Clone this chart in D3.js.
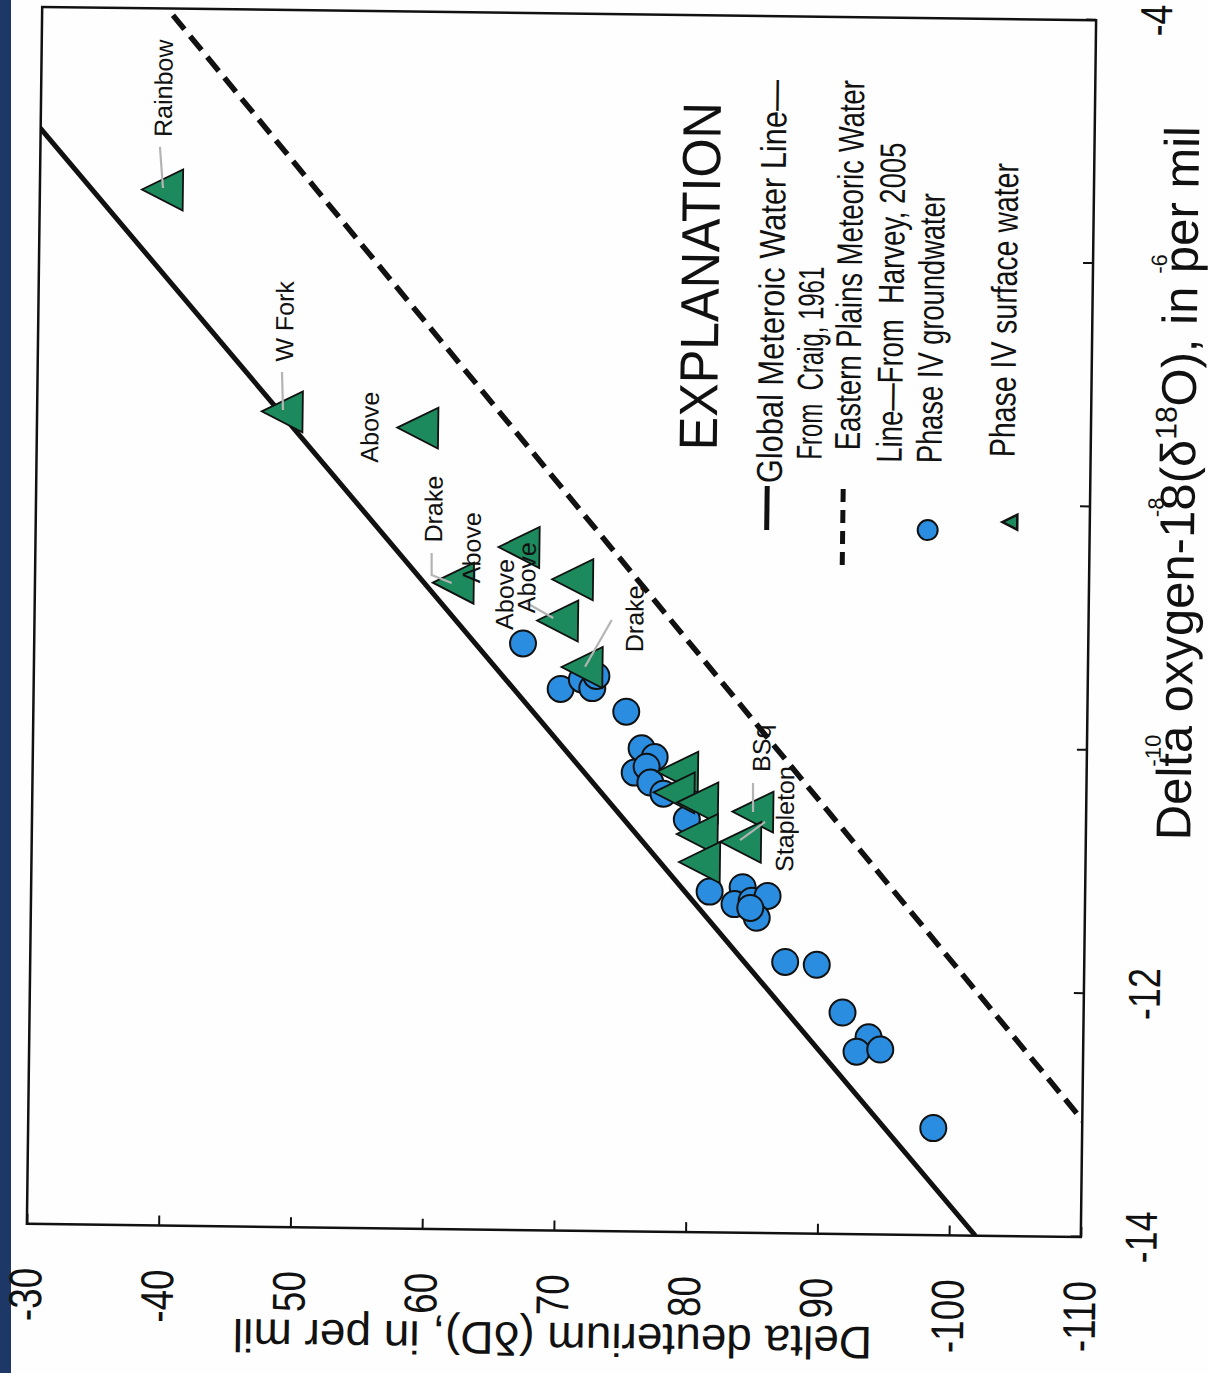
<!DOCTYPE html>
<html><head><meta charset="utf-8">
<script src="https://cdn.jsdelivr.net/npm/d3@7"></script>
<style>body{margin:0;background:#fff}svg{display:block}text{font-family:"Liberation Sans",Arial,sans-serif}</style>
</head><body>
<svg id="chart" width="1209" height="1373"></svg>
<script>
// ---------------- DATA ----------------
const xTicks = [-14, -12, -10, -8, -6, -4];             // delta O-18, per mil
const yTicks = [-30, -40, -50, -60, -70, -80, -90, -100, -110]; // delta D, per mil

// Phase IV groundwater (circles)
const gwO = [-9.18, -9.55, -9.47, -9.54, -9.44, -9.73, -10.03, -10.10, -10.23, -10.18, -10.31, -10.40, -10.61,
             -11.20, -11.16, -11.30, -11.27, -11.23, -11.41, -11.33, -11.77, -11.79, -12.18, -12.38, -12.50, -12.48, -13.12];
const gwD = [-67.1, -70.0, -71.6, -72.4, -72.7, -75.0, -76.2, -77.2, -75.7, -76.6, -76.9, -77.9, -79.7,
             -81.5, -84.0, -83.4, -84.7, -85.9, -85.1, -84.6, -87.3, -89.7, -91.7, -93.7, -92.8, -94.6, -98.7];

// Phase IV surface water (triangles)
const swO = [-5.49, -7.30, -7.42, -8.69, -8.39, -8.65, -8.99, -9.37, -10.22, -10.39, -10.47, -10.73, -10.96, -10.54, -10.79];
const swD = [-39.3, -48.6, -58.9, -61.75, -66.7, -70.8, -69.7, -71.6, -78.95, -78.7, -80.5, -80.5, -80.7, -84.7, -83.8];

// Site labels (anchor = start of text, in data units)
const labelText = ["Rainbow", "W Fork", "Above", "Drake", "Above", "Above", "Above", "Drake", "BSq", "Stapleton"];
const labelO = [-5.055, -6.89, -7.71, -8.36, -8.69, -9.07, -8.93, -9.24, -10.21, -11.03];
const labelD = [-39.95, -49.37, -55.92, -60.85, -63.78, -66.33, -67.98, -76.21, -85.97, -87.81];

// Leader lines from labels to symbols
const leaderO = [[-5.138, -5.475], [-6.975, -7.287], [-8.446, -8.627, -8.691], [-8.847, -8.968],
                 [-8.978, -9.365], [-10.303, -10.541], [-10.622, -10.773]];
const leaderD = [[-39.07, -39.34], [-48.55, -48.66], [-60.08, -60.10, -61.63], [-67.34, -69.37],
                 [-73.81, -71.83], [-84.69, -84.72], [-85.64, -83.76]];

// Meteoric water lines: dD = slope * d18O + intercept
const gmwlSlope = 8, gmwlIntercept = 10;        // Craig, 1961
const epmwlSlope = 7.8, epmwlIntercept = -8.3;  // Eastern Plains, Harvey 2005

const legendTitle = "EXPLANATION";
const legendRows = ["Global Meteroic Water Line\u2014", "From\u00a0 Craig, 1961", "Eastern Plains Meteoric Water",
                    "Line\u2014From\u00a0 Harvey, 2005", "Phase IV groundwater", "Phase IV surface water"];
const xTitle = ["Delta oxygen-18(\u03b4", "18", "O), in per mil"];
const yTitle = "Delta deuterium (\u03b4D), in per mil";

// ---------------- LAYOUT ----------------
const W = 1217, H = 1054;   // inner (unrotated) plot size
const svg = d3.select("#chart");
svg.append("rect").attr("width", 1209).attr("height", 1373).attr("fill", "#fefefe");
svg.append("rect").attr("x", 0).attr("y", 0).attr("width", 11).attr("height", 1373).attr("fill", "#1d3766");

const tilt = svg.append("g").attr("transform", "rotate(0.72,561.5,622)");
const g = tilt.append("g").attr("transform", "translate(34.5,1230.5) rotate(-90)");

const x = d3.scaleLinear().domain([-14, -4]).range([0, W]);
const y = d3.scaleLinear().domain([-30, -110]).range([0, H]);

g.append("clipPath").attr("id", "clip").append("rect").attr("width", W).attr("height", H);

// Meteoric water lines
const lineGen = d3.line().x(d => x(d[0])).y(d => y(d[1]));
const oExt = x.domain();
g.append("path").datum(oExt.map(o => [o, gmwlSlope * o + gmwlIntercept]))
  .attr("d", lineGen).attr("clip-path", "url(#clip)")
  .attr("fill", "none").attr("stroke", "#111").attr("stroke-width", 5);
g.append("path").datum(oExt.map(o => [o, epmwlSlope * o + epmwlIntercept]))
  .attr("d", lineGen).attr("clip-path", "url(#clip)")
  .attr("fill", "none").attr("stroke", "#111").attr("stroke-width", 5.5)
  .attr("stroke-dasharray", "18,9");

// Frame
g.append("rect").attr("width", W).attr("height", H).attr("fill", "none")
  .attr("stroke", "#111").attr("stroke-width", 2.5);

// Titles (drawn first to measure their extent)
const xTitleT = g.append("text").attr("x", 398).attr("y", 1158.5)
  .style("font-size", "49px").attr("fill", "#111");
xTitleT.append("tspan").text(xTitle[0]);
xTitleT.append("tspan").attr("dy", -19).style("font-size", "30px").text(xTitle[1]);
xTitleT.append("tspan").attr("dy", 19).text(xTitle[2]);
const xTitleLen = xTitleT.node().getComputedTextLength();

// Axes
const xAxis = d3.axisBottom(x).tickValues(xTicks).tickSizeInner(-10).tickSizeOuter(0)
  .tickPadding(44).tickFormat(d => String(d));
const xg = g.append("g").attr("transform", `translate(0,${H})`).call(xAxis);
const yAxis = d3.axisLeft(y).tickValues(yTicks).tickSizeInner(-10).tickSizeOuter(0)
  .tickPadding(44).tickFormat(d => String(d));
const yg = g.append("g").call(yAxis);
[xg, yg].forEach(a => {
  a.select(".domain").remove();
  a.selectAll(".tick line").attr("stroke", "#111").attr("stroke-width", 2);
  a.selectAll("text").attr("fill", "#111").style("font-family", '"Liberation Sans",Arial,sans-serif');
});
xg.selectAll(".tick text").each(function(d) {
  const t = d3.select(this);
  const inTitle = x(d) > 398 - 10 && x(d) < 398 + xTitleLen + 10;
  if (inTitle) {
    t.style("font-size", "22px").attr("y", 58);
  } else {
    t.style("font-size", "45px").attr("transform", "scale(0.8,1)");
  }
});
yg.selectAll(".tick text").style("font-size", "46px").attr("x", -44 / 0.8)
  .attr("transform", "scale(0.8,1)");

// y title (upside-down after rotation) with white backing that masks overlapped minus signs
const yt = g.append("g").attr("transform", "translate(-92.5,527) rotate(-90)");
const ytText = yt.append("text").attr("text-anchor", "middle").style("font-size", "46px")
  .attr("fill", "#111").text(yTitle);
const ytLen = ytText.node().getComputedTextLength();
yt.insert("rect", "text").attr("x", -ytLen / 2 - 2).attr("y", -38).attr("width", ytLen + 4)
  .attr("height", 45).attr("fill", "#fefefe");

// Groundwater circles
g.append("g").selectAll("circle").data(d3.range(gwO.length)).join("circle")
  .attr("cx", i => x(gwO[i])).attr("cy", i => y(gwD[i])).attr("r", 13)
  .attr("fill", "#2a8de0").attr("stroke", "#111").attr("stroke-width", 2);

// Surface-water triangles (apex toward smaller dD axis position -> points left once rotated)
const tri = (w, h) => `M0,${-h / 2}L${w / 2},${h / 2}L${-w / 2},${h / 2}Z`;
g.append("g").selectAll("path").data(d3.range(swO.length)).join("path")
  .attr("transform", i => `translate(${x(swO[i])},${y(swD[i])})`)
  .attr("d", tri(41, 41))
  .attr("fill", "#1d8a5d").attr("stroke", "#111").attr("stroke-width", 1.8).attr("stroke-linejoin", "miter");

// Leader lines
const leaderLine = d3.line();
g.append("g").selectAll("path").data(d3.range(leaderO.length)).join("path")
  .attr("d", i => leaderLine(leaderO[i].map((o, j) => [x(o), y(leaderD[i][j])])))
  .attr("fill", "none").attr("stroke", "#b4b4b4").attr("stroke-width", 2.2);

// Site labels
g.append("g").selectAll("text").data(d3.range(labelText.length)).join("text")
  .attr("x", i => x(labelO[i])).attr("y", i => y(labelD[i]))
  .style("font-size", "25px").attr("fill", "#111").text(i => labelText[i]);

// Legend
const lg = g.append("g");
lg.append("text").attr("x", 782).attr("y", 680).style("font-size", "54px").attr("fill", "#111")
  .attr("textLength", 348).attr("lengthAdjust", "spacingAndGlyphs").text(legendTitle);
const rowU = [750, 774, 784, 772, 772, 779];
const rowV = [745.5, 785, 823, 865, 905, 978];
const rowLen = [403, 193, 370, 320, 270, 294];
legendRows.forEach((t, i) => {
  lg.append("text").attr("x", rowU[i]).attr("y", rowV[i]).style("font-size", "36px").attr("fill", "#111")
    .attr("textLength", rowLen[i]).attr("lengthAdjust", "spacingAndGlyphs").text(t);
});
lg.append("line").attr("x1", 703).attr("x2", 747).attr("y1", 731).attr("y2", 731)
  .attr("stroke", "#111").attr("stroke-width", 5);
lg.append("line").attr("x1", 669).attr("x2", 747).attr("y1", 807).attr("y2", 807)
  .attr("stroke", "#111").attr("stroke-width", 5).attr("stroke-dasharray", "13,8");
lg.append("circle").attr("cx", 705).attr("cy", 892).attr("r", 10)
  .attr("fill", "#2a8de0").attr("stroke", "#111").attr("stroke-width", 2);
lg.append("path").attr("transform", "translate(714,974)").attr("d", tri(15, 15))
  .attr("fill", "#1d8a5d").attr("stroke", "#111").attr("stroke-width", 2.5);
</script>
</body></html>
